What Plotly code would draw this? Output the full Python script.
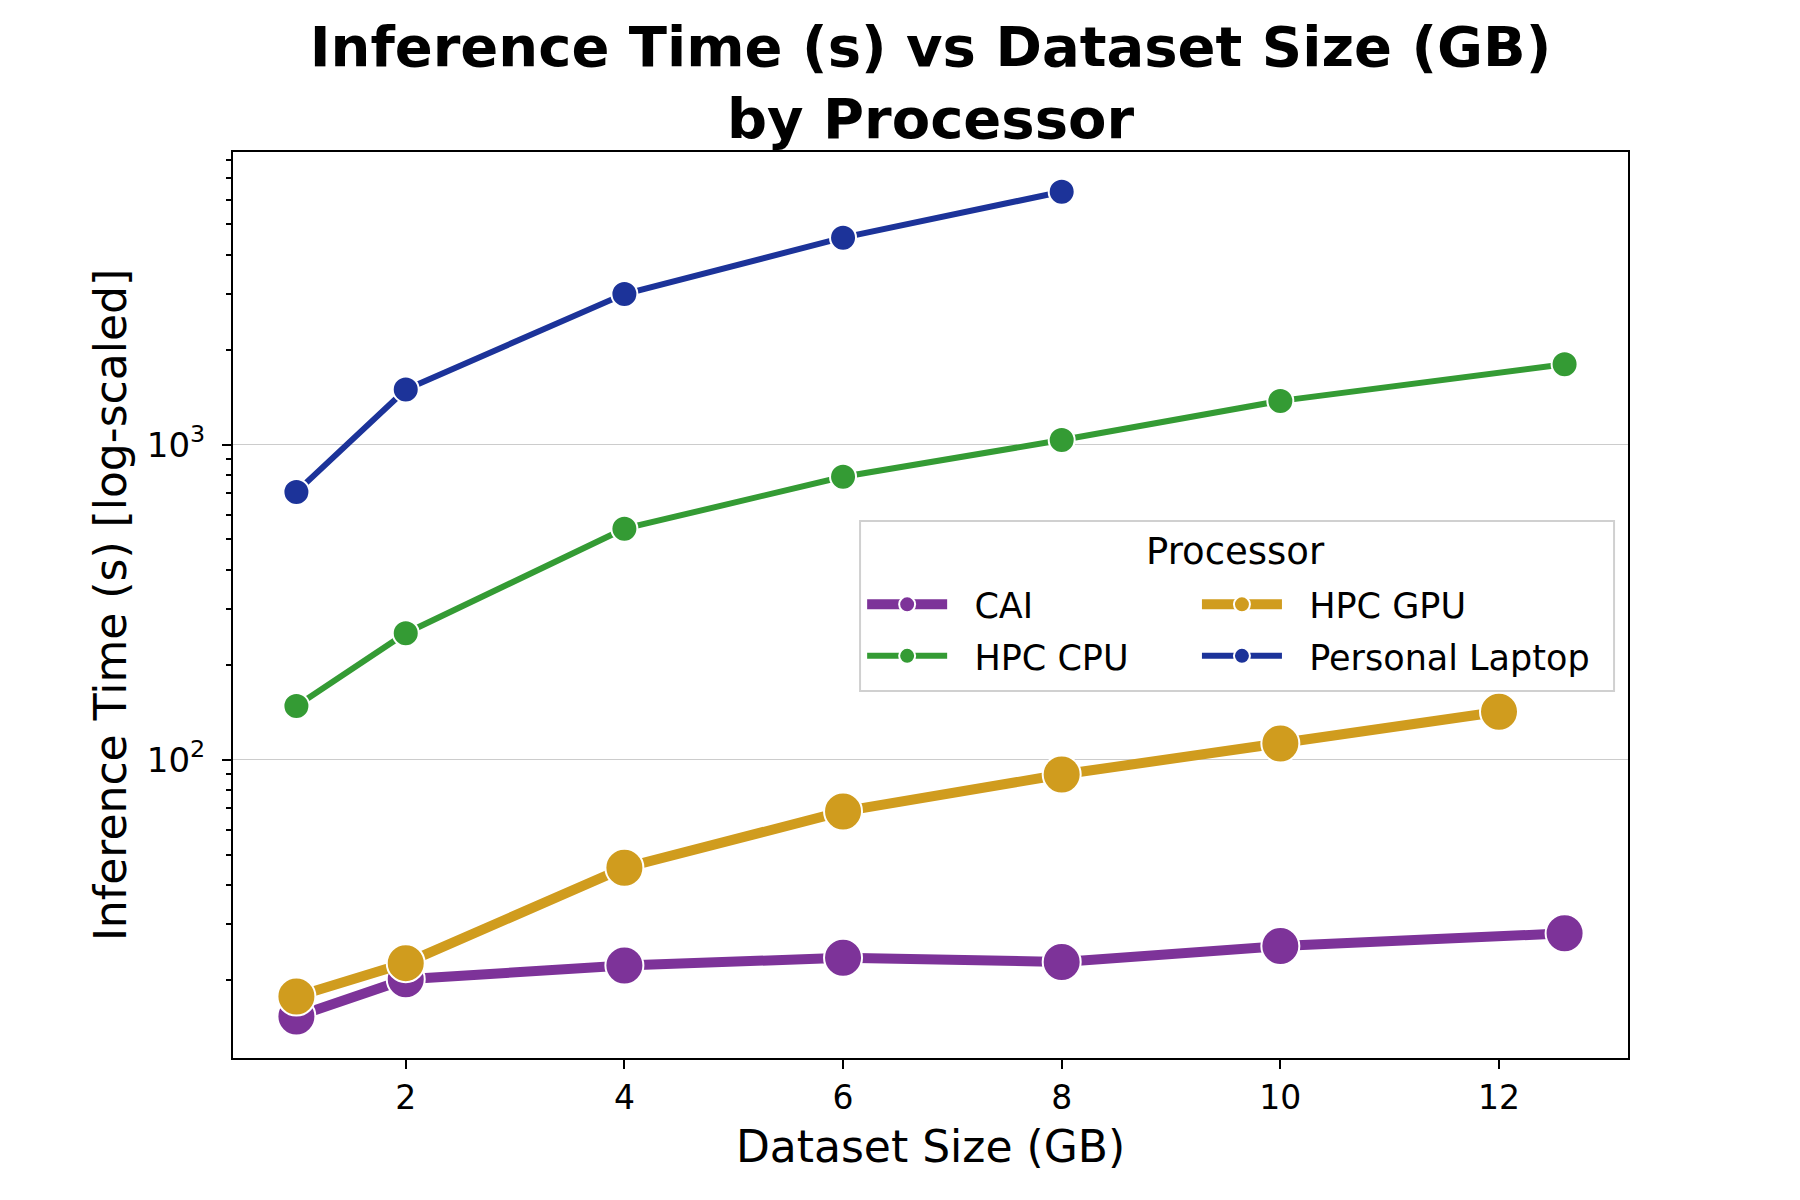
import plotly.graph_objects as go

# dataset sizes (GB) and inference times (s) per processor
cai_x = [1, 2, 4, 6, 8, 10, 12.6]
cai_y = [15.3, 20.1, 22.2, 23.5, 22.8, 25.6, 28.1]

gpu_x = [1, 2, 4, 6, 8, 10, 12]
gpu_y = [17.7, 22.6, 45.4, 68.5, 89.7, 112.5, 142]

cpu_x = [1, 2, 4, 6, 8, 10, 12.6]
cpu_y = [148, 252, 541, 791, 1034, 1377, 1800]

laptop_x = [1, 2, 4, 6, 8]
laptop_y = [708, 1497, 3006, 4540, 6350]

x_ticks = [2, 4, 6, 8, 10, 12]
y_ticks = [100, 1000]
y_ticktext = ["10<sup>2</sup>", "10<sup>3</sup>"]
y_minor = [m * 10 ** e for e in (1, 2, 3) for m in range(2, 10)]

series = [
    # name, x, y, color, line width, marker size, legend column
    ("CAI", cai_x, cai_y, "#7D3399", 10, 38, "legend"),
    ("HPC CPU", cpu_x, cpu_y, "#349B34", 6, 26, "legend"),
    ("HPC GPU", gpu_x, gpu_y, "#D09C1E", 10, 38, "legend2"),
    ("Personal Laptop", laptop_x, laptop_y, "#1C3399", 6, 26, "legend2"),
]

fig = go.Figure()
for name, xs, ys, color, lw, ms, leg in series:
    fig.add_trace(go.Scatter(
        x=xs, y=ys, name="\u00a0\u00a0" + name, mode="lines+markers",
        line=dict(color=color, width=lw),
        marker=dict(size=ms, color=color, line=dict(color="white", width=2)),
        legend=leg, legendgroup=name,
    ))

font = "DejaVu Sans"
L, R, T, B = 225, 180, 144, 150
legend_style = dict(
    orientation="v", itemwidth=80, yanchor="top", y=0.533, xanchor="left",
    bgcolor="rgba(0,0,0,0)", borderwidth=0, font=dict(size=35),
    itemsizing="trace", tracegroupgap=3,
)

fig.update_layout(
    width=1800, height=1200,
    template="plotly_white",
    paper_bgcolor="white", plot_bgcolor="white",
    margin=dict(l=L, r=R, t=T, b=B, autoexpand=False),
    font=dict(family=font, size=33, color="black"),
    title=dict(
        text="<b>Inference Time (s) vs Dataset Size (GB)<br>by Processor</b>",
        x=(L + (1800 - R)) / 2 / 1800, xanchor="center",
        y=0.952, yanchor="top",
        font=dict(family=font, size=56, color="black"),
    ),
    xaxis=dict(
        title=dict(text="Dataset Size (GB)", font=dict(size=44), standoff=16),
        range=[0.42, 13.18], tickvals=x_ticks,
        showgrid=False, zeroline=False,
        showline=True, linecolor="black", linewidth=2, mirror=True,
        ticks="outside", ticklen=9, tickwidth=2, tickcolor="black",
    ),
    yaxis=dict(
        title=dict(text="Inference Time (s) [log-scaled]", font=dict(size=44), standoff=6),
        type="log", range=[1.053, 3.929],
        tickvals=y_ticks, ticktext=y_ticktext, tickfont=dict(size=34),
        ticklabelstandoff=10,
        showgrid=True, gridcolor="#cccccc", gridwidth=1.2, zeroline=False,
        showline=True, linecolor="black", linewidth=2, mirror=True,
        ticks="outside", ticklen=9, tickwidth=2, tickcolor="black",
        minor=dict(tickvals=y_minor, ticks="outside", ticklen=5, tickwidth=1.5,
                   tickcolor="black", showgrid=False),
    ),
    legend=dict(x=0.451, **legend_style),
    legend2=dict(x=0.691, **legend_style),
    shapes=[dict(
        type="rect", xref="paper", yref="paper",
        x0=0.4495, x1=0.990, y0=0.405, y1=0.5927,
        line=dict(color="#d0d0d0", width=2), fillcolor="white", layer="above",
    )],
    annotations=[dict(
        text="Processor", xref="paper", yref="paper",
        x=0.7183, y=0.5596, xanchor="center", yanchor="middle",
        showarrow=False, font=dict(size=37, color="black"),
    )],
)

fig.write_html("out.html")
